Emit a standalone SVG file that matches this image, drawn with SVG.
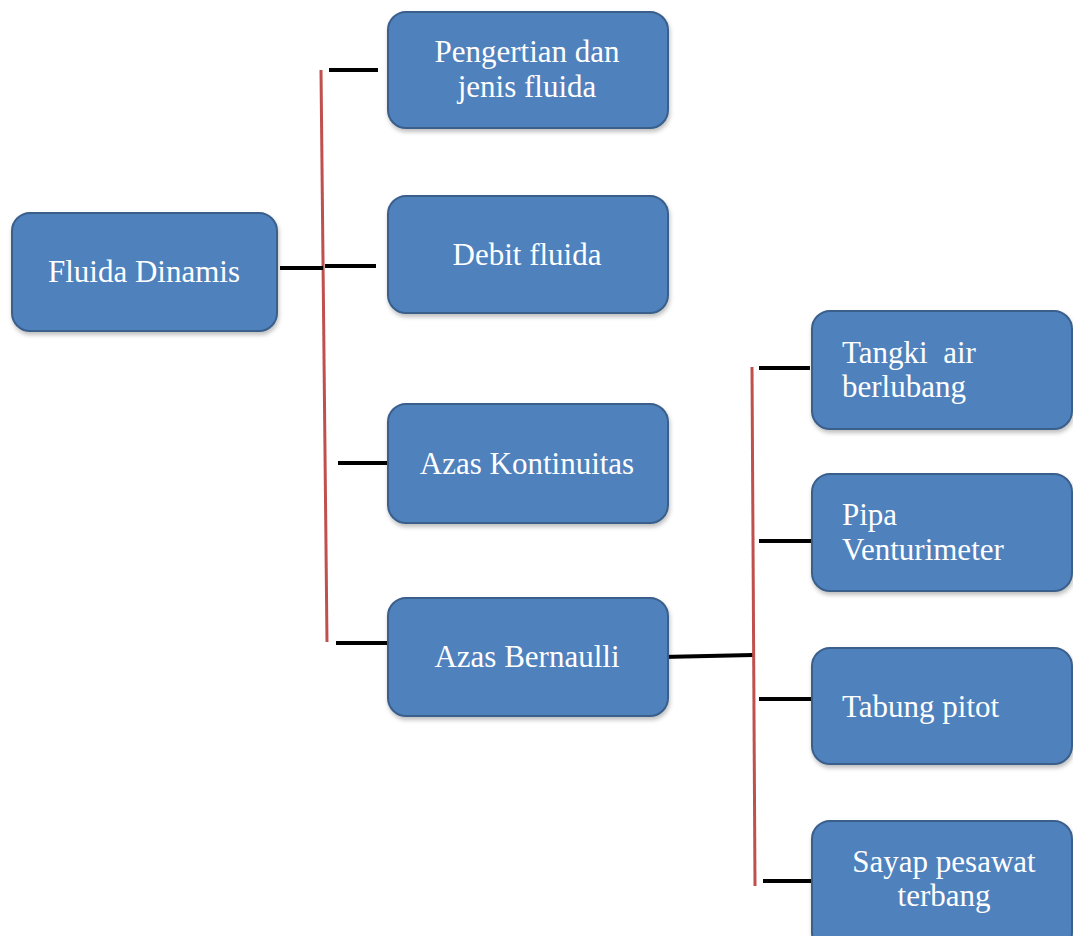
<svg xmlns="http://www.w3.org/2000/svg" width="1073" height="936" viewBox="0 0 1073 936">
<defs>
<filter id="sh" x="-10%" y="-10%" width="130%" height="140%">
<feDropShadow dx="1" dy="3" stdDeviation="2" flood-color="#000" flood-opacity="0.25"/>
</filter>
</defs>
<style>
.box{fill:#4F81BD;stroke:#3A5F8B;stroke-width:2;filter:url(#sh)}
.t{fill:#fff;font-family:"Liberation Serif","Times New Roman",serif;font-size:31px}
.c{text-anchor:middle}
.tick{stroke:#000;stroke-width:4;fill:none}
.red{stroke:#C0504D;stroke-width:3;fill:none}
</style>
<rect width="1073" height="936" fill="#fff"/>
<g id="connectors">
<line class="red" x1="321" y1="70" x2="327" y2="642"/>
<line class="tick" x1="329" y1="70" x2="378" y2="70"/>
<line class="tick" x1="280" y1="268" x2="323" y2="268"/>
<line class="tick" x1="325" y1="266" x2="376" y2="266"/>
<line class="tick" x1="338" y1="463" x2="388" y2="463"/>
<line class="tick" x1="336" y1="643" x2="388" y2="643"/>
<line class="tick" x1="662" y1="657" x2="753" y2="655" stroke-width="3"/>
<line class="red" x1="752" y1="367" x2="755" y2="886"/>
<line class="tick" x1="759" y1="368" x2="810" y2="368"/>
<line class="tick" x1="759" y1="541" x2="812" y2="541"/>
<line class="tick" x1="759" y1="699" x2="812" y2="699"/>
<line class="tick" x1="763" y1="881" x2="812" y2="881"/>
</g>
<g id="fluida-dinamis">
<rect class="box" x="12" y="213" width="265" height="118" rx="18"/>
<text class="t c" x="144" y="282">Fluida Dinamis</text>
</g>
<g id="pengertian">
<rect class="box" x="388" y="12" width="280" height="116" rx="18"/>
<text class="t c" x="527" y="62">Pengertian dan</text>
<text class="t c" x="527" y="97">jenis fluida</text>
</g>
<g id="debit">
<rect class="box" x="388" y="196" width="280" height="117" rx="18"/>
<text class="t c" x="527" y="265">Debit fluida</text>
</g>
<g id="kontinuitas">
<rect class="box" x="388" y="404" width="280" height="119" rx="18"/>
<text class="t c" x="527" y="474">Azas Kontinuitas</text>
</g>
<g id="bernaulli">
<rect class="box" x="388" y="598" width="280" height="118" rx="18"/>
<text class="t c" x="527" y="667">Azas Bernaulli</text>
</g>
<g id="tangki">
<rect class="box" x="812" y="311" width="260" height="118" rx="18"/>
<text class="t" x="842" y="363" xml:space="preserve">Tangki  air</text>
<text class="t" x="842" y="397">berlubang</text>
</g>
<g id="pipa">
<rect class="box" x="812" y="474" width="260" height="117" rx="18"/>
<text class="t" x="842" y="525">Pipa</text>
<text class="t" x="842" y="560">Venturimeter</text>
</g>
<g id="tabung">
<rect class="box" x="812" y="648" width="260" height="116" rx="18"/>
<text class="t" x="842" y="717">Tabung pitot</text>
</g>
<g id="sayap">
<rect class="box" x="812" y="821" width="260" height="130" rx="18"/>
<text class="t c" x="944" y="872">Sayap pesawat</text>
<text class="t c" x="944" y="906">terbang</text>
</g>
</svg>
